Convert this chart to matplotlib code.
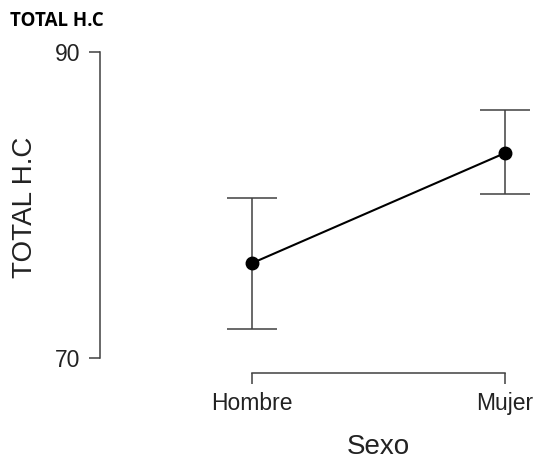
import matplotlib
matplotlib.use('Agg')
import matplotlib.pyplot as plt

groups = ['Hombre', 'Mujer']
means = [76.2, 83.4]
lower = [71.9, 80.7]
upper = [80.45, 86.2]
yticks = [70, 90]

plt.rcParams['font.family'] = ['Liberation Sans', 'DejaVu Sans']

fig = plt.figure(figsize=(5.37, 4.65), dpi=100)
ax = fig.add_axes([100/537, 92/465, 430/537, 333/465])

x = list(range(len(groups)))
err = [[m - lo for m, lo in zip(means, lower)], [up - m for m, up in zip(means, upper)]]
ax.errorbar(x, means, yerr=err, fmt='none', ecolor='#404040', elinewidth=1.1,
            capsize=18, capthick=1.1)
ax.plot(x, means, color='black', lw=1.5, marker='o', markersize=9)

ax.set_xlim(-0.603, 1.099)
ax.set_ylim(69.0, 90.8)

for s in ['top', 'right']:
    ax.spines[s].set_visible(False)
ax.spines['left'].set_bounds(70, 90)
ax.spines['bottom'].set_bounds(0, 1)
for s in ['left', 'bottom']:
    ax.spines[s].set_color('#404040')
    ax.spines[s].set_linewidth(1.1)

ax.set_xticks(x)
ax.set_xticklabels(groups)
ax.set_yticks(yticks)
ax.tick_params(axis='both', length=8, width=1.1, color='#404040',
               labelsize=16.5, labelcolor='#222222', pad=6)

ax.set_xlabel('Sexo', fontsize=20, color='#222222')
ax.xaxis.set_label_coords((378 - 100) / 430, (373 - 434) / 333)
ax.set_ylabel('TOTAL H.C', fontsize=20, color='#222222')
ax.yaxis.set_label_coords((38 - 100) / 430, (373 - 207) / 333)

fig.text(10/537, 1 - 11/465, 'TOTAL H.C', fontsize=13.5, fontweight='bold',
         family=['Open Sans', 'DejaVu Sans'], ha='left', va='top')

fig.savefig('out.png', dpi=100)
